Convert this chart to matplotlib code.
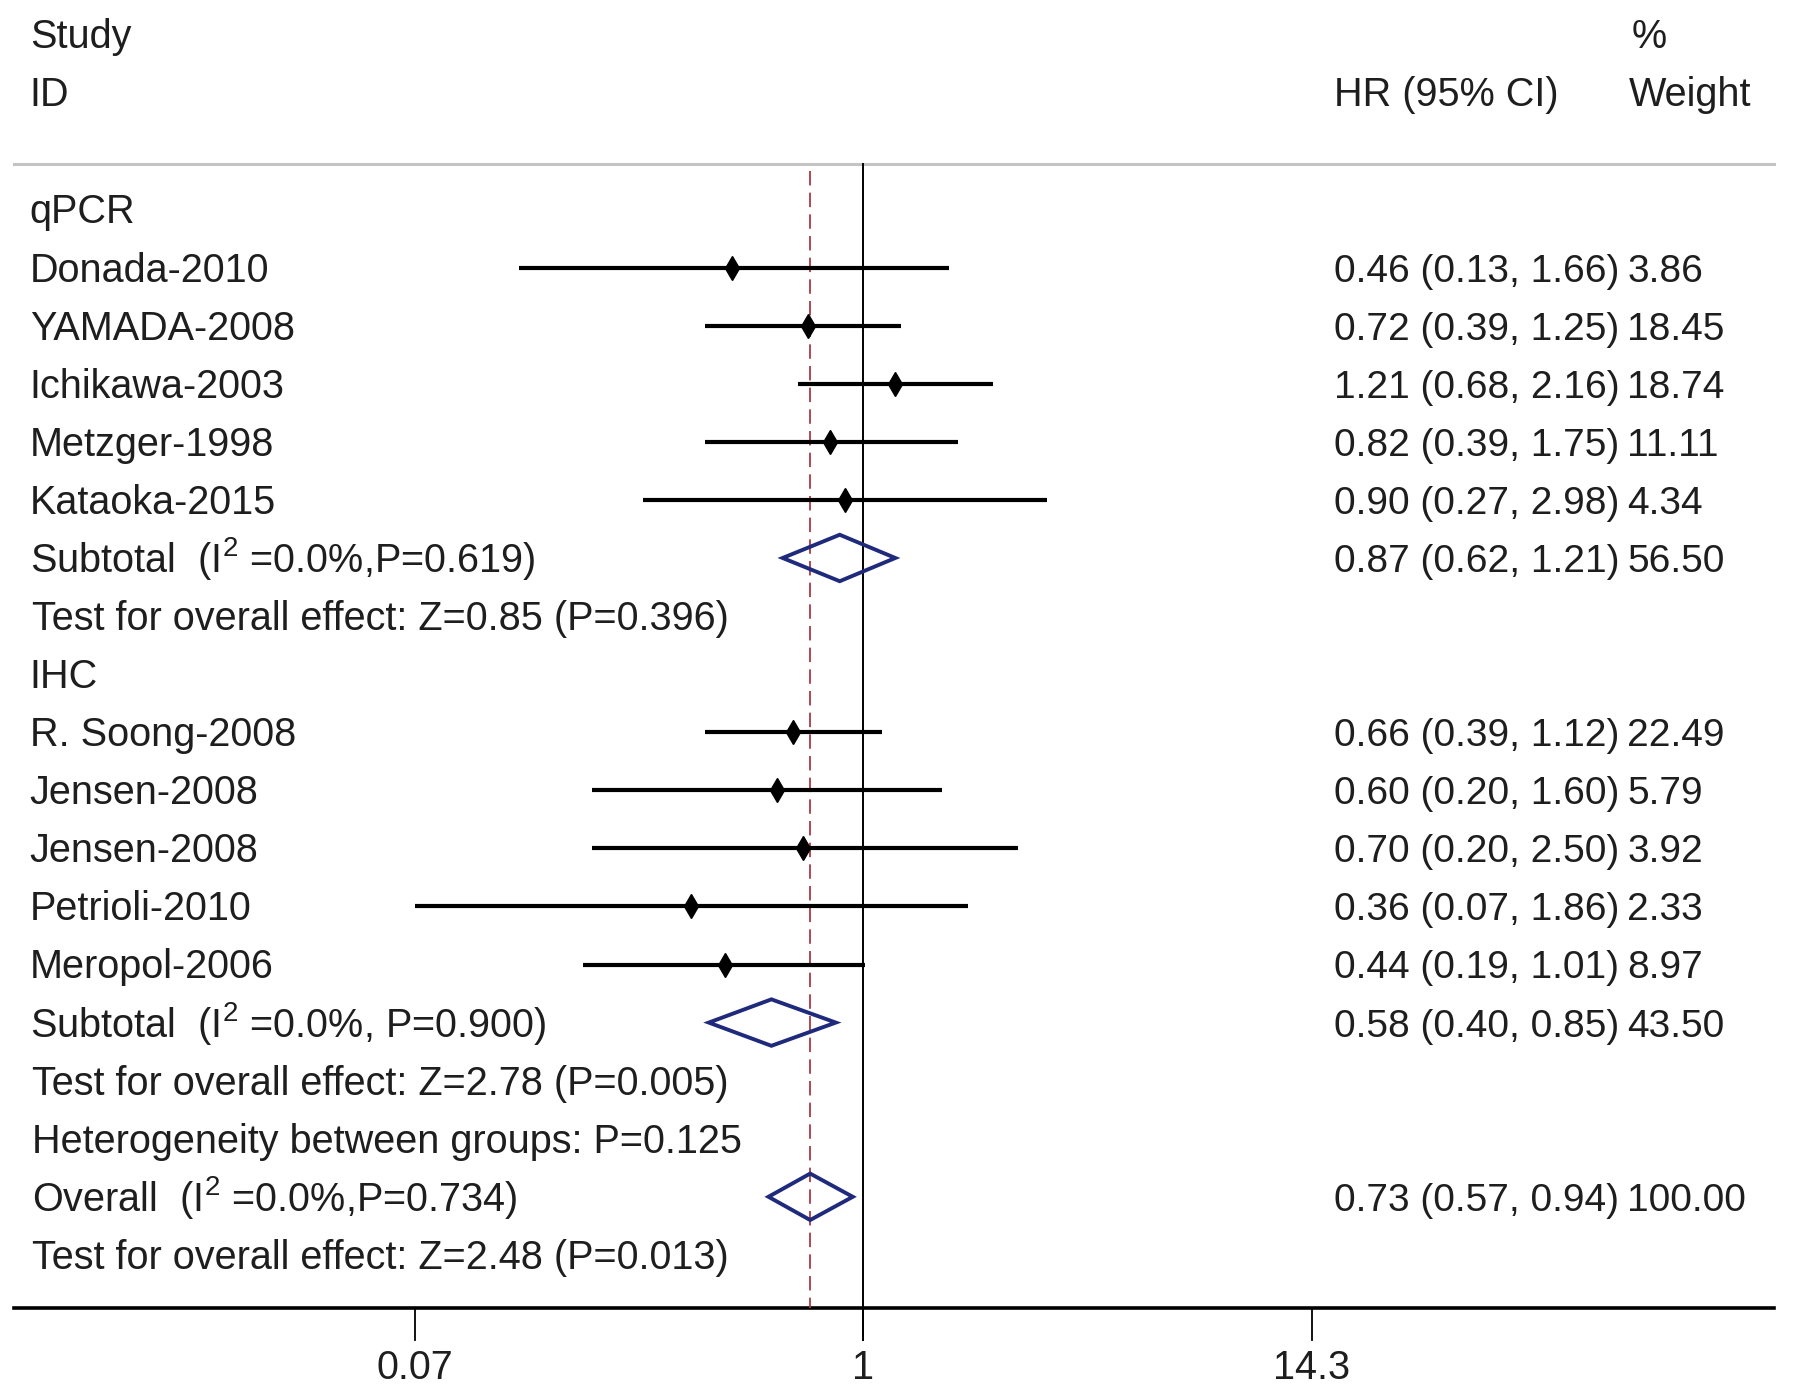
import numpy as np
import matplotlib
matplotlib.use("Agg")
import matplotlib.pyplot as plt
from matplotlib.transforms import blended_transform_factory

plt.rcParams['font.family'] = ['Liberation Sans', 'DejaVu Sans']
plt.rcParams['mathtext.fontset'] = 'custom'
plt.rcParams['mathtext.rm'] = 'Liberation Sans'
plt.rcParams['mathtext.it'] = 'Liberation Sans:italic'

# study level data
qpcr_names = ["Donada-2010", "YAMADA-2008", "Ichikawa-2003", "Metzger-1998", "Kataoka-2015"]
qpcr_hr = [0.46, 0.72, 1.21, 0.82, 0.90]
qpcr_lo = [0.13, 0.39, 0.68, 0.39, 0.27]
qpcr_hi = [1.66, 1.25, 2.16, 1.75, 2.98]
qpcr_w = [3.86, 18.45, 18.74, 11.11, 4.34]

ihc_names = ["R. Soong-2008", "Jensen-2008", "Jensen-2008", "Petrioli-2010", "Meropol-2006"]
ihc_hr = [0.66, 0.60, 0.70, 0.36, 0.44]
ihc_lo = [0.39, 0.20, 0.20, 0.07, 0.19]
ihc_hi = [1.12, 1.60, 2.50, 1.86, 1.01]
ihc_w = [22.49, 5.79, 3.92, 2.33, 8.97]

# pooled estimates: qPCR subtotal, IHC subtotal, overall
pooled_labels = ["Subtotal  (I$^{2}$ =0.0%,P=0.619)", "Subtotal  (I$^{2}$ =0.0%, P=0.900)",
                 "Overall  (I$^{2}$ =0.0%,P=0.734)"]
pooled_hr = [0.87, 0.58, 0.73]
pooled_lo = [0.62, 0.40, 0.57]
pooled_hi = [1.21, 0.85, 0.94]
pooled_w = [56.50, 43.50, 100.00]

tests = ["Test for overall effect: Z=0.85 (P=0.396)",
         "Test for overall effect: Z=2.78 (P=0.005)",
         "Test for overall effect: Z=2.48 (P=0.013)"]
hetero = "Heterogeneity between groups: P=0.125"
groups = ["qPCR", "IHC"]
xticks = [0.07, 1, 14.3]

FS = 28.5
FS_HR = 28.0
navy = '#1f2a7c'
ink = '#1e1e1e'

fig = plt.figure(figsize=(17.95, 13.96), dpi=100)
ax = fig.add_axes([0, 0, 1, 1])
ax.set_xscale('log')
ax.set_xlim(np.exp(-5.122), np.exp(5.529))
ax.set_ylim(20.43, -3.608)
ax.axis('off')
tr = blended_transform_factory(ax.transAxes, ax.transData)

X_LEFT = 0.0166
X_TXT = 0.0178
X_HR = 0.7434
X_W = 0.9065
BASE = 0.24  # baseline offset below row centre


def label(x, y, s, fs=FS, **kw):
    ax.text(x, y + BASE, s, transform=tr, fontsize=fs, va='baseline', color=ink, **kw)


# build rows
rows = []
rows.append(('group', groups[0]))
for i in range(len(qpcr_names)):
    rows.append(('study', (qpcr_names[i], qpcr_hr[i], qpcr_lo[i], qpcr_hi[i], qpcr_w[i])))
rows.append(('pooled', 0))
rows.append(('text', tests[0]))
rows.append(('group', groups[1]))
for i in range(len(ihc_names)):
    rows.append(('study', (ihc_names[i], ihc_hr[i], ihc_lo[i], ihc_hi[i], ihc_w[i])))
rows.append(('pooled', 1))
rows.append(('text', tests[1]))
rows.append(('text', hetero))
rows.append(('pooled', 2))
rows.append(('text', tests[2]))

for y, (kind, p) in enumerate(rows):
    if kind == 'group':
        label(X_LEFT, y, p)
    elif kind == 'text':
        label(X_TXT, y, p)
    elif kind == 'study':
        name, hr, lo, hi, w = p
        ax.plot([lo, hi], [y, y], color='black', lw=3.0, solid_capstyle='butt', zorder=3)
        ax.plot([hr], [y], marker='d', color='black', markersize=12, zorder=4)
        label(X_LEFT, y, name)
        label(X_HR, y, f"{hr:.2f} ({lo:.2f}, {hi:.2f})", fs=FS_HR)
        label(X_W, y, f"{w:.2f}", fs=FS_HR)
    elif kind == 'pooled':
        hr, lo, hi, w = pooled_hr[p], pooled_lo[p], pooled_hi[p], pooled_w[p]
        h = 0.4
        ax.fill([lo, hr, hi, hr, lo], [y, y - h, y, y + h, y], facecolor='none',
                edgecolor=navy, lw=2.8, zorder=5, joinstyle='miter')
        label(X_LEFT if p < 2 else X_TXT, y, pooled_labels[p])
        label(X_HR, y, f"{hr:.2f} ({lo:.2f}, {hi:.2f})", fs=FS_HR)
        label(X_W, y, f"{w:.2f}", fs=FS_HR)

# headers
label(X_LEFT, -3.017, "Study")
label(X_LEFT, -2.03, "ID")
label(X_HR, -2.03, "HR (95% CI)")
label(0.909, -3.017, "%")
label(0.9075, -2.03, "Weight")

top_y = -0.789
axis_y = 18.91
tick_end = 19.46

ax.plot([0.0077, 0.9885], [top_y, top_y], transform=tr, color='#c4c4c4', lw=2.2)
ax.plot([0.0077, 0.9885], [axis_y, axis_y], transform=tr, color='black', lw=2.6)

# null line and overall estimate line
ax.plot([1, 1], [top_y, tick_end], color='black', lw=1.4, zorder=2)
ax.plot([pooled_hr[2], pooled_hr[2]], [top_y + 0.12, axis_y], color='#a83a44', lw=1.3,
        dashes=(8, 4), zorder=2)

for t in xticks:
    ax.plot([t, t], [axis_y, tick_end], color='black', lw=1.3)
    ax.text(t, 19.89 + BASE, f"{t:g}", fontsize=FS, ha='center', va='baseline', color=ink)

fig.savefig('out.png', dpi=100)
